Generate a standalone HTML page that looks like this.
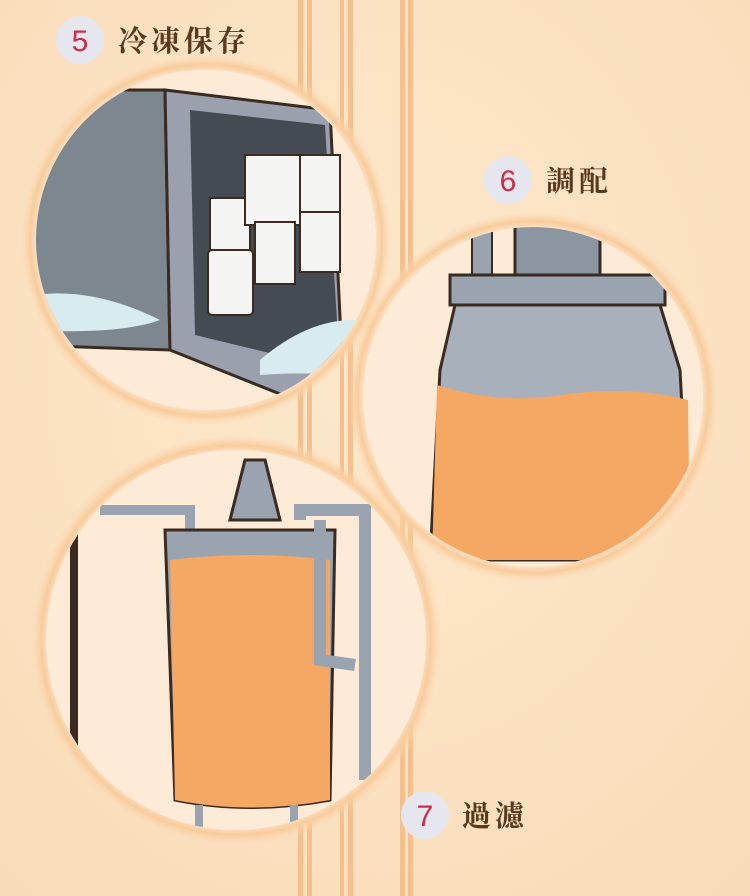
<!DOCTYPE html>
<html><head><meta charset="utf-8"><style>
html,body{margin:0;padding:0;width:750px;height:896px;overflow:hidden;background:#fbe2c2}
</style></head><body>
<svg width="750" height="896" viewBox="0 0 750 896" xmlns="http://www.w3.org/2000/svg">
<defs>
<radialGradient id="bg" cx="0.5" cy="0.4" r="0.8"><stop offset="0" stop-color="#fde8cc"/><stop offset="1" stop-color="#f9dcb8"/></radialGradient>
<radialGradient id="glow"><stop offset="0.9" stop-color="#fdebd7"/><stop offset="0.95" stop-color="#f9cc9c"/><stop offset="1" stop-color="#fbd8b0" stop-opacity="0"/></radialGradient>
<clipPath id="c1"><circle cx="206" cy="240" r="170"/></clipPath>
<clipPath id="c2"><circle cx="533" cy="397" r="170"/></clipPath>
<clipPath id="c3"><circle cx="236" cy="640" r="190"/></clipPath>
</defs>
<rect width="750" height="896" fill="url(#bg)"/>
<g fill="#f5c08e">
<rect x="298" y="0" width="5" height="896"/><rect x="307" y="0" width="5" height="896"/>
<rect x="340" y="0" width="4" height="896"/><rect x="348" y="0" width="5" height="896"/>
<rect x="400" y="0" width="5" height="896"/><rect x="408" y="0" width="5" height="896"/>
</g>
<!-- circle 1 -->
<circle cx="206" cy="240" r="185" fill="url(#glow)"/>
<g clip-path="url(#c1)">
<rect x="0" y="60" width="400" height="360" fill="#fdebd7"/>
<polygon points="20,90 165,90 170,350 20,345" fill="#7c8790" stroke="#3a2a22" stroke-width="3"/>
<polygon points="165,90 330,110 345,420 170,350" fill="#9aa0ae" stroke="#3a2a22" stroke-width="3"/>
<polygon points="190,110 325,125 340,370 195,335" fill="#454b52"/>
<g fill="#f4f4f2" stroke="#3a2a22" stroke-width="2">
<rect x="210" y="198" width="40" height="55"/><rect x="245" y="155" width="55" height="70"/>
<rect x="300" y="155" width="40" height="60"/><rect x="255" y="222" width="40" height="62"/>
<rect x="300" y="212" width="40" height="60"/><rect x="208" y="250" width="45" height="65" rx="4"/>
</g>
<path d="M10,300 Q80,280 160,320 Q120,335 20,330 Z" fill="#d8ecf0"/>
<path d="M260,360 Q330,300 400,330 L400,380 Q320,370 260,375 Z" fill="#d8ecf0"/>
</g>
<!-- circle 2 -->
<circle cx="533" cy="397" r="185" fill="url(#glow)"/>
<g clip-path="url(#c2)">
<rect x="350" y="220" width="360" height="360" fill="#fdebd7"/>
<rect x="515" y="225" width="85" height="50" fill="#8c96a2" stroke="#3a2a22" stroke-width="3"/>
<rect x="472" y="230" width="20" height="45" fill="#9aa4b0" stroke="#3a2a22" stroke-width="2"/>
<rect x="450" y="275" width="215" height="30" fill="#9aa4b0" stroke="#3a2a22" stroke-width="3"/>
<path d="M455,305 L660,305 L680,370 L690,560 L430,560 L440,370 Z" fill="#a8b0bc" stroke="#3a2a22" stroke-width="3"/>
<path d="M437,385 Q500,405 560,395 Q630,385 688,400 L690,560 L432,560 Z" fill="#f5a764"/>
</g>
<!-- circle 3 -->
<circle cx="236" cy="640" r="205" fill="url(#glow)"/>
<g clip-path="url(#c3)">
<rect x="30" y="440" width="420" height="420" fill="#fdebd7"/>
<rect x="70" y="510" width="8" height="300" fill="#3a2a22"/>
<polygon points="230,520 245,460 265,460 280,520" fill="#9aa4b0" stroke="#3a2a22" stroke-width="3"/>
<path d="M100,510 L190,510 L190,540" fill="none" stroke="#9aa4b0" stroke-width="10"/>
<path d="M165,530 L335,530 L330,800 Q250,815 175,800 Z" fill="#9aa4b0" stroke="#3a2a22" stroke-width="3"/>
<path d="M170,560 Q250,550 330,560 L330,800 Q250,815 175,800 Z" fill="#f5a764"/>
<path d="M300,520 L300,510 L365,510 L365,780 M320,520 L320,660 L355,665" fill="none" stroke="#9aa4b0" stroke-width="12"/>
<rect x="195" y="805" width="8" height="30" fill="#9aa4b0"/><rect x="290" y="805" width="8" height="30" fill="#9aa4b0"/>
</g>
<!-- labels -->
<g font-family="Liberation Serif, Noto Serif CJK SC, serif" font-weight="bold" fill="#5a3a1e">
<circle cx="80" cy="40" r="24" fill="#e6e6ee"/>
<text x="80" y="51" text-anchor="middle" font-family="Liberation Sans, sans-serif" font-size="30" font-weight="normal" fill="#d22a48">5</text>
<text x="118" y="51" font-size="29" letter-spacing="4">冷凍保存</text>
<circle cx="508" cy="180" r="24" fill="#e6e6ee"/>
<text x="508" y="191" text-anchor="middle" font-family="Liberation Sans, sans-serif" font-size="30" font-weight="normal" fill="#d22a48">6</text>
<text x="546" y="191" font-size="29" letter-spacing="4">調配</text>
<circle cx="425" cy="815" r="24" fill="#e6e6ee"/>
<text x="425" y="826" text-anchor="middle" font-family="Liberation Sans, sans-serif" font-size="30" font-weight="normal" fill="#d22a48">7</text>
<text x="462" y="826" font-size="29" letter-spacing="4">過濾</text>
</g>
</svg>
</body></html>
